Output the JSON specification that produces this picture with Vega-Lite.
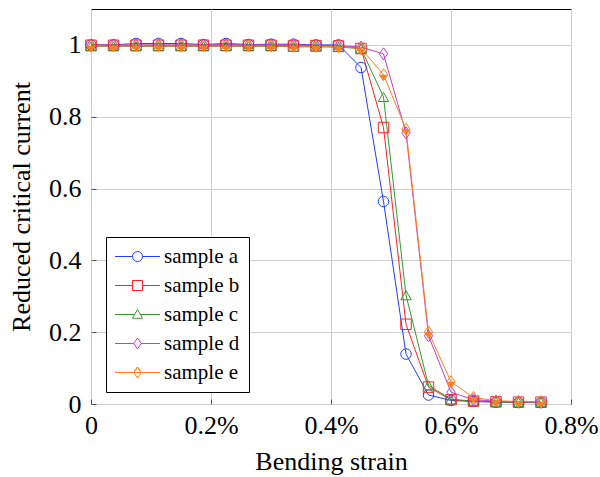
{
  "$schema": "https://vega.github.io/schema/vega-lite/v6.json",
  "width": 480,
  "height": 395,
  "autosize": "none",
  "padding": {"left": 91, "top": 9, "right": 29, "bottom": 73},
  "background": "white",
  "config": {
    "view": {"stroke": "black", "strokeWidth": 1},
    "font": "Liberation Serif",
    "axis": {
      "labelFont": "Liberation Serif",
      "titleFont": "Liberation Serif",
      "labelFontSize": 26,
      "titleFontSize": 26,
      "titleFontWeight": "normal",
      "labelColor": "black",
      "titleColor": "black",
      "gridColor": "#cfcfcf",
      "gridWidth": 1,
      "domain": false,
      "tickColor": "#555555",
      "tickSize": -5
    },
    "legend": {
      "strokeColor": "black", "fillColor": "white", "padding": 9,
      "symbolSize": 100, "symbolStrokeWidth": 1, "symbolOpacity": 1,
      "symbolOffset": 12,
      "labelFont": "Liberation Serif", "labelFontSize": 21, "labelColor": "black",
      "labelOffset": 16, "rowPadding": 7, "labelLimit": 300,
      "cornerRadius": 0
    }
  },
  "data": {
    "values": [
      {"x": 0, "y": 1.0, "sample": "sample a"}, {"x": 0.0375, "y": 1.0, "sample": "sample a"}, {"x": 0.075, "y": 1.004, "sample": "sample a"}, {"x": 0.1125, "y": 1.004, "sample": "sample a"}, {"x": 0.15, "y": 1.004, "sample": "sample a"}, {"x": 0.1875, "y": 1.001, "sample": "sample a"}, {"x": 0.225, "y": 1.004, "sample": "sample a"}, {"x": 0.2625, "y": 1.001, "sample": "sample a"}, {"x": 0.3, "y": 1.002, "sample": "sample a"}, {"x": 0.3375, "y": 1.002, "sample": "sample a"}, {"x": 0.375, "y": 1.0, "sample": "sample a"}, {"x": 0.4125, "y": 1.0, "sample": "sample a"}, {"x": 0.45, "y": 0.937, "sample": "sample a"}, {"x": 0.4875, "y": 0.564, "sample": "sample a"}, {"x": 0.525, "y": 0.139, "sample": "sample a"}, {"x": 0.5625, "y": 0.025, "sample": "sample a"}, {"x": 0.6, "y": 0.01, "sample": "sample a"}, {"x": 0.6375, "y": 0.007, "sample": "sample a"}, {"x": 0.675, "y": 0.005, "sample": "sample a"}, {"x": 0.7125, "y": 0.004, "sample": "sample a"}, {"x": 0.75, "y": 0.004, "sample": "sample a"},
      {"x": 0, "y": 0.999, "sample": "sample b"}, {"x": 0.0375, "y": 0.999, "sample": "sample b"}, {"x": 0.075, "y": 0.999, "sample": "sample b"}, {"x": 0.1125, "y": 0.999, "sample": "sample b"}, {"x": 0.15, "y": 0.999, "sample": "sample b"}, {"x": 0.1875, "y": 0.999, "sample": "sample b"}, {"x": 0.225, "y": 0.999, "sample": "sample b"}, {"x": 0.2625, "y": 0.999, "sample": "sample b"}, {"x": 0.3, "y": 0.999, "sample": "sample b"}, {"x": 0.3375, "y": 0.997, "sample": "sample b"}, {"x": 0.375, "y": 0.998, "sample": "sample b"}, {"x": 0.4125, "y": 0.997, "sample": "sample b"}, {"x": 0.45, "y": 0.99, "sample": "sample b"}, {"x": 0.4875, "y": 0.77, "sample": "sample b"}, {"x": 0.525, "y": 0.222, "sample": "sample b"}, {"x": 0.5625, "y": 0.047, "sample": "sample b"}, {"x": 0.6, "y": 0.012, "sample": "sample b"}, {"x": 0.6375, "y": 0.008, "sample": "sample b"}, {"x": 0.675, "y": 0.006, "sample": "sample b"}, {"x": 0.7125, "y": 0.005, "sample": "sample b"}, {"x": 0.75, "y": 0.005, "sample": "sample b"},
      {"x": 0, "y": 0.996, "sample": "sample c"}, {"x": 0.0375, "y": 0.996, "sample": "sample c"}, {"x": 0.075, "y": 0.996, "sample": "sample c"}, {"x": 0.1125, "y": 0.996, "sample": "sample c"}, {"x": 0.15, "y": 0.996, "sample": "sample c"}, {"x": 0.1875, "y": 0.996, "sample": "sample c"}, {"x": 0.225, "y": 0.996, "sample": "sample c"}, {"x": 0.2625, "y": 0.996, "sample": "sample c"}, {"x": 0.3, "y": 0.996, "sample": "sample c"}, {"x": 0.3375, "y": 0.995, "sample": "sample c"}, {"x": 0.375, "y": 0.995, "sample": "sample c"}, {"x": 0.4125, "y": 0.994, "sample": "sample c"}, {"x": 0.45, "y": 0.99, "sample": "sample c"}, {"x": 0.4875, "y": 0.855, "sample": "sample c"}, {"x": 0.525, "y": 0.303, "sample": "sample c"}, {"x": 0.5625, "y": 0.052, "sample": "sample c"}, {"x": 0.6, "y": 0.013, "sample": "sample c"}, {"x": 0.6375, "y": 0.008, "sample": "sample c"}, {"x": 0.675, "y": 0.006, "sample": "sample c"}, {"x": 0.7125, "y": 0.005, "sample": "sample c"}, {"x": 0.75, "y": 0.005, "sample": "sample c"},
      {"x": 0, "y": 1.0, "sample": "sample d"}, {"x": 0.0375, "y": 1.0, "sample": "sample d"}, {"x": 0.075, "y": 1.0, "sample": "sample d"}, {"x": 0.1125, "y": 1.0, "sample": "sample d"}, {"x": 0.15, "y": 1.0, "sample": "sample d"}, {"x": 0.1875, "y": 1.0, "sample": "sample d"}, {"x": 0.225, "y": 1.001, "sample": "sample d"}, {"x": 0.2625, "y": 1.0, "sample": "sample d"}, {"x": 0.3, "y": 1.0, "sample": "sample d"}, {"x": 0.3375, "y": 1.0, "sample": "sample d"}, {"x": 0.375, "y": 0.999, "sample": "sample d"}, {"x": 0.4125, "y": 0.998, "sample": "sample d"}, {"x": 0.45, "y": 0.994, "sample": "sample d"}, {"x": 0.4875, "y": 0.975, "sample": "sample d"}, {"x": 0.525, "y": 0.755, "sample": "sample d"}, {"x": 0.5625, "y": 0.19, "sample": "sample d"}, {"x": 0.6, "y": 0.033, "sample": "sample d"}, {"x": 0.6375, "y": 0.012, "sample": "sample d"}, {"x": 0.675, "y": 0.008, "sample": "sample d"}, {"x": 0.7125, "y": 0.006, "sample": "sample d"}, {"x": 0.75, "y": 0.005, "sample": "sample d"},
      {"x": 0, "y": 0.997, "sample": "sample e"}, {"x": 0.0375, "y": 0.997, "sample": "sample e"}, {"x": 0.075, "y": 0.997, "sample": "sample e"}, {"x": 0.1125, "y": 0.997, "sample": "sample e"}, {"x": 0.15, "y": 0.997, "sample": "sample e"}, {"x": 0.1875, "y": 0.997, "sample": "sample e"}, {"x": 0.225, "y": 0.997, "sample": "sample e"}, {"x": 0.2625, "y": 0.997, "sample": "sample e"}, {"x": 0.3, "y": 0.997, "sample": "sample e"}, {"x": 0.3375, "y": 0.996, "sample": "sample e"}, {"x": 0.375, "y": 0.996, "sample": "sample e"}, {"x": 0.4125, "y": 0.995, "sample": "sample e"}, {"x": 0.45, "y": 0.99, "sample": "sample e"}, {"x": 0.4875, "y": 0.917, "sample": "sample e"}, {"x": 0.525, "y": 0.765, "sample": "sample e"}, {"x": 0.5625, "y": 0.2, "sample": "sample e"}, {"x": 0.6, "y": 0.062, "sample": "sample e"}, {"x": 0.6375, "y": 0.018, "sample": "sample e"}, {"x": 0.675, "y": 0.009, "sample": "sample e"}, {"x": 0.7125, "y": 0.007, "sample": "sample e"}, {"x": 0.75, "y": 0.006, "sample": "sample e"}
    ]
  },
  "encoding": {
    "x": {
      "field": "x", "type": "quantitative",
      "scale": {"domain": [0, 0.8], "nice": false, "zero": false},
      "axis": {
        "title": "Bending strain",
        "values": [0, 0.2, 0.4, 0.6, 0.8],
        "labelExpr": "datum.value == 0 ? '0' : format(datum.value, '.1f') + '%'",
        "labelPadding": 13,
        "titlePadding": 10,
        "labelFlush": false
      }
    },
    "y": {
      "field": "y", "type": "quantitative",
      "scale": {"domain": [0, 1.1], "nice": false},
      "axis": {
        "title": "Reduced critical current",
        "values": [0, 0.2, 0.4, 0.6, 0.8, 1.0],
        "labelExpr": "datum.value == 0 ? '0' : datum.value == 1 ? '1' : format(datum.value, '.1f')",
        "labelPadding": 15,
        "titlePadding": 14
      }
    }
  },
  "layer": [
    {
      "mark": {"type": "line", "strokeWidth": 1},
      "encoding": {
        "color": {
          "field": "sample", "type": "nominal",
          "scale": {"domain": ["sample a", "sample b", "sample c", "sample d", "sample e"], "range": ["#1f3dff", "#ff2020", "#339a2a", "#c040c8", "#ff7f1e"]},
          "legend": null
        }
      }
    },
    {
      "mark": {"type": "point", "filled": false, "strokeWidth": 1, "size": 110, "opacity": 1},
      "encoding": {
        "color": {
          "field": "sample", "type": "nominal",
          "scale": {"domain": ["sample a", "sample b", "sample c", "sample d", "sample e"], "range": ["#1f3dff", "#ff2020", "#339a2a", "#c040c8", "#ff7f1e"]},
          "legend": null
        },
        "shape": {
          "field": "sample", "type": "nominal",
          "scale": {"domain": ["sample a", "sample b", "sample c", "sample d", "sample e"], "range": ["circle", "square", "triangle-up", "M0,-1.15L0.8,0L0,1.15L-0.8,0Z", "M0,-1.15L0.8,0L0,1.15L-0.8,0Z"]},
          "legend": null
        }
      }
    },
    {
      "transform": [{"filter": "datum.sample == 'sample e'"}],
      "mark": {"type": "point", "filled": true, "size": 110, "opacity": 1, "color": "#ff7f1e", "shape": "M-0.8,0L0,1.15L0.8,0Z"},
      "encoding": {}
    },
    {
      "mark": {"type": "point", "filled": false, "opacity": 0, "size": 1},
      "encoding": {
        "color": {
          "field": "sample", "type": "nominal",
          "scale": {"domain": ["sample a", "sample b", "sample c", "sample d", "sample e"], "range": ["#1f3dff", "#ff2020", "#339a2a", "#c040c8", "#ff7f1e"]},
          "legend": {
            "title": null, "orient": "none", "legendX": 15, "legendY": 228,
            "encode": {"symbols": {"update": {"fill": {"signal": "datum.value === 'sample e' ? '#ff7f1e' : 'transparent'"}, "opacity": {"value": 1}}}}
          }
        },
        "shape": {
          "field": "sample", "type": "nominal",
          "scale": {"domain": ["sample a", "sample b", "sample c", "sample d", "sample e"], "range": [
            "M-4.5,0H-1M1,0H4.5M-1,0A1,1,0,1,0,1,0A1,1,0,1,0,-1,0",
            "M-4.5,0H-1M1,0H4.5M-1,-1H1V1H-1Z",
            "M-4.5,0H-0.57M0.57,0H4.5M0,-1L1,0.75L-1,0.75Z",
            "M-4.5,0H-0.75M0.75,0H4.5M0,-1.1L0.75,0L0,1.1L-0.75,0Z",
            "M-4.5,0H-0.75M0.75,0H4.5M-0.75,0L0,-1.1L0.75,0L0,-1.1ZM-0.75,0L0,1.1L0.75,0Z"
          ]},
          "legend": {
            "title": null, "orient": "none", "legendX": 15, "legendY": 228
          }
        }
      }
    }
  ],
  "resolve": {"scale": {"color": "independent", "shape": "independent"}}
}
